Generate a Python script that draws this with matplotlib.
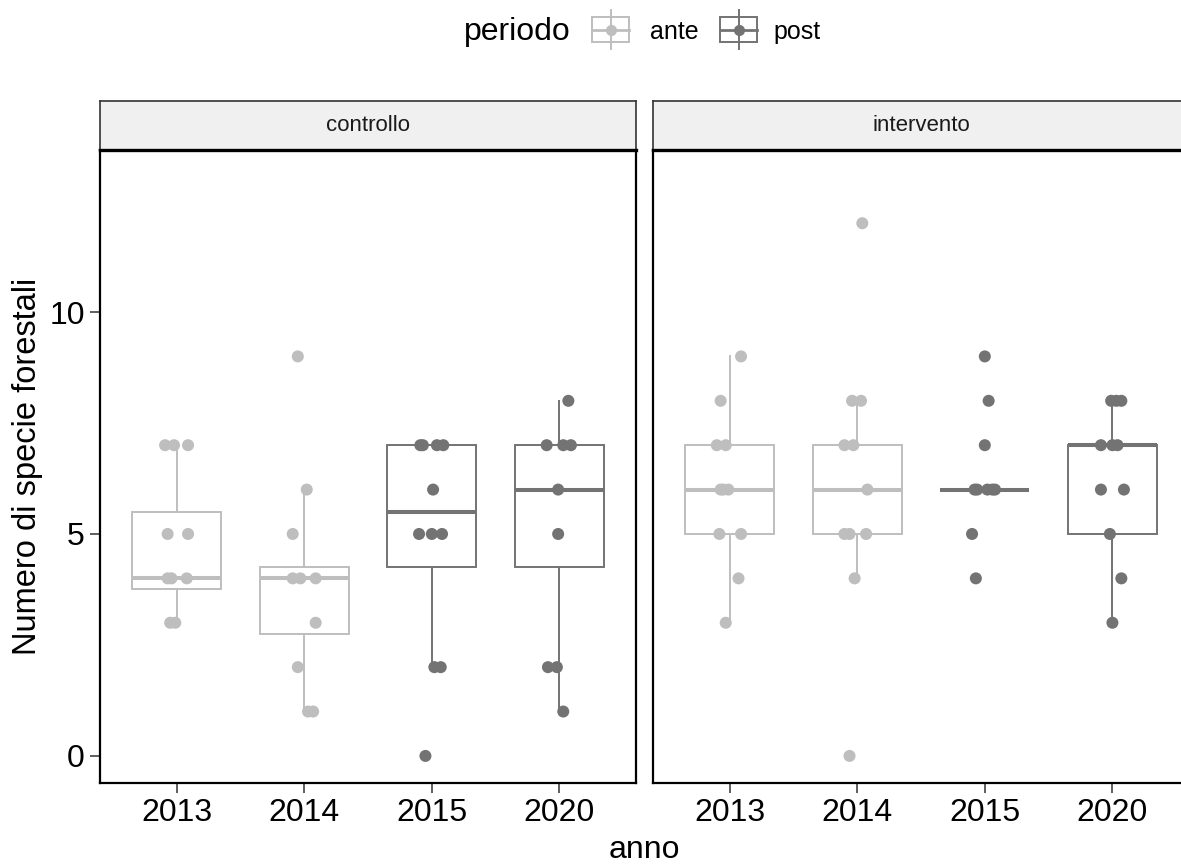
import matplotlib
matplotlib.use("Agg")
import matplotlib.pyplot as plt
from matplotlib.patches import Rectangle
from matplotlib.lines import Line2D

plt.rcParams['font.family'] = ['Liberation Sans', 'DejaVu Sans']

# data
years = ['2013', '2014', '2015', '2020']
year_period = ['ante', 'ante', 'post', 'post']
panels = ['controllo', 'intervento']
period_colors = {'ante': '#BEBEBE', 'post': '#737373'}

# points per panel / year (values and horizontal jitter)
ctrl_vals = [
    [7, 7, 7, 5, 5, 4, 4, 4, 3, 3],
    [9, 6, 5, 4, 4, 4, 3, 2, 1, 1],
    [7, 7, 7, 7, 6, 5, 5, 5, 2, 2, 0],
    [8, 7, 7, 7, 6, 5, 2, 2, 1],
]
ctrl_jit = [
    [-0.09, -0.02, 0.09, -0.07, 0.09, -0.07, -0.04, 0.08, -0.05, -0.01],
    [-0.05, 0.02, -0.09, -0.09, -0.03, 0.09, 0.09, -0.05, 0.03, 0.07],
    [-0.09, -0.07, 0.04, 0.09, 0.01, -0.10, 0.0, 0.08, 0.02, 0.07, -0.05],
    [0.07, -0.10, 0.03, 0.09, -0.01, -0.01, -0.09, -0.02, 0.03],
]
int_vals = [
    [9, 8, 7, 7, 6, 6, 6, 5, 5, 4, 3],
    [12, 8, 8, 7, 7, 6, 5, 5, 5, 4, 0],
    [9, 8, 7, 6, 6, 6, 6, 6, 5, 4],
    [8, 8, 8, 7, 7, 7, 6, 6, 5, 4, 3],
]
int_jit = [
    [0.09, -0.07, -0.10, -0.03, -0.07, -0.05, -0.01, -0.08, 0.09, 0.07, -0.03],
    [0.04, -0.04, 0.03, -0.10, -0.03, 0.08, -0.10, -0.06, 0.07, -0.02, -0.06],
    [0.0, 0.03, 0.0, -0.08, -0.06, 0.02, 0.06, 0.08, -0.10, -0.07],
    [-0.01, 0.03, 0.07, -0.09, 0.0, 0.04, -0.09, 0.09, -0.02, 0.07, 0.0],
]

# box statistics: whisker low, q1, median, q3, whisker high
ctrl_box = [
    [3, 3.75, 4, 5.5, 7],
    [1, 2.75, 4, 4.25, 6],
    [2, 4.25, 5.5, 7, 7],
    [1, 4.25, 6, 7, 8],
]
int_box = [
    [3, 5, 6, 7, 9],
    [4, 5, 6, 7, 8],
    [6, 6, 6, 6, 6],
    [3, 5, 7, 7, 8],
]

W, H = 1181, 868
fig = plt.figure(figsize=(W / 100, H / 100), dpi=100)


def fx(px):
    return px / W


def fy(py):
    return 1 - py / H


panel_left = [100, 653]
panel_w = 536
top, bottom, strip_top = 150, 783, 101

data = {'controllo': (ctrl_vals, ctrl_jit, ctrl_box),
        'intervento': (int_vals, int_jit, int_box)}

for i, name in enumerate(panels):
    vals, jit, boxes = data[name]
    ax = fig.add_axes([fx(panel_left[i]), fy(bottom), fx(panel_w), fy(top) - fy(bottom)])
    for j, yr in enumerate(years):
        col = period_colors[year_period[j]]
        wl, q1, med, q3, wh = boxes[j]
        st = [dict(whislo=wl, q1=q1, med=med, q3=q3, whishi=wh, label=yr)]
        ax.bxp(st, positions=[j + 1], widths=0.7, showfliers=False, showcaps=False,
               patch_artist=True,
               boxprops=dict(facecolor='white', edgecolor=col, linewidth=1.4),
               whiskerprops=dict(color=col, linewidth=1.4),
               medianprops=dict(color=col, linewidth=2.9, solid_capstyle='butt'))
        xs = [j + 1 + d for d in jit[j]]
        ax.scatter(xs, vals[j], s=75, color=col, edgecolors='none', zorder=5)
    ax.set_xlim(0.4, 4.6)
    ax.set_ylim(-0.61, 13.65)
    ax.set_xticks(range(1, 5))
    ax.set_xticklabels(years)
    ax.set_yticks([0, 5, 10])
    ax.tick_params(labelsize=23, length=7, width=1.1, color='#333333', pad=4)
    if i == 1:
        ax.tick_params(axis='y', left=False, labelleft=False)
    for sp in ax.spines.values():
        sp.set_linewidth(1.6)
        sp.set_color('black')

    # strip
    sax = fig.add_axes([fx(panel_left[i]), fy(top), fx(panel_w), fy(strip_top) - fy(top)])
    sax.set_facecolor('#F0F0F0')
    sax.set_xticks([])
    sax.set_yticks([])
    for sp in sax.spines.values():
        sp.set_linewidth(1.2)
        sp.set_color('#333333')
    sax.spines['bottom'].set_linewidth(2.4)
    sax.spines['bottom'].set_color('black')
    sax.text(0.5, 0.5, name, ha='center', va='center', fontsize=16,
             color='#1A1A1A', transform=sax.transAxes)

fig.text(fx(644), fy(850), 'anno', ha='center', va='center', fontsize=23)
fig.text(fx(28), fy(466), 'Numero di specie forestali', ha='center', va='center',
         rotation=90, fontsize=23.5)

# legend
fig.text(fx(517), fy(32), 'periodo', ha='center', va='center', fontsize=23)
key_x = {'ante': 592, 'post': 720}
lab_x = {'ante': 650, 'post': 773}
for p in ['ante', 'post']:
    col = period_colors[p]
    kx = key_x[p]
    x0, x1 = fx(kx), fx(kx + 37)
    xm = (x0 + x1) / 2
    fig.add_artist(Line2D([xm, xm], [fy(10), fy(49)], color=col, lw=1.4))
    fig.add_artist(Rectangle((x0, fy(42)), x1 - x0, fy(17) - fy(42), facecolor='white',
                             edgecolor=col, lw=1.4))
    fig.add_artist(Line2D([x0, x1], [fy(30), fy(30)], color=col, lw=2.0))
    fig.add_artist(Line2D([xm], [fy(30)], marker='o', markersize=8, color=col,
                          markeredgewidth=0))
    fig.text(fx(lab_x[p]), fy(32), p, ha='left', va='center', fontsize=18)

fig.savefig('out.png', dpi=100)
